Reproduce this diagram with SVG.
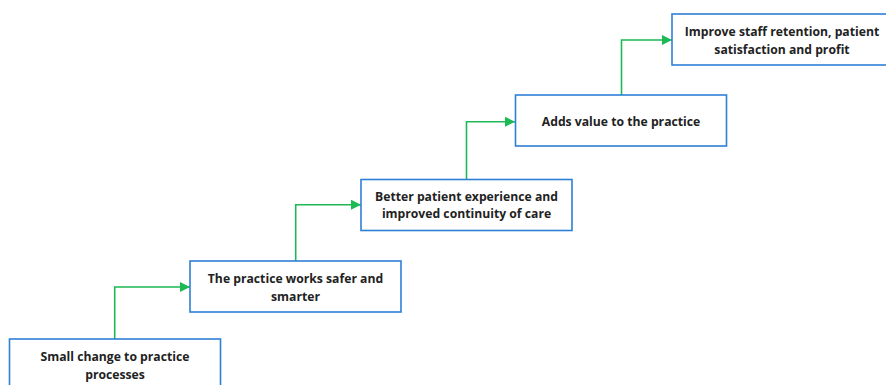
<svg xmlns="http://www.w3.org/2000/svg" width="886" height="385" viewBox="0 0 886 385">
  <defs>
    <marker id="arrow" viewBox="0 0 10 10" refX="10" refY="5" markerWidth="10" markerHeight="10" markerUnits="userSpaceOnUse" orient="auto">
      <path d="M0,0 L10,5 L0,10 Z" fill="#1db954"/>
    </marker>
    <style>
      .box { fill: #ffffff; stroke: #2e7fd6; stroke-width: 1.6; }
      .label { font-family: "Open Sans", "Liberation Sans", sans-serif; font-weight: 700; font-size: 12.2px; fill: #222222; text-anchor: middle; }
      .conn { fill: none; stroke: #1db954; stroke-width: 1.6; marker-end: url(#arrow); }
    </style>
  </defs>
  <rect width="886" height="385" fill="#ffffff"/>

  <g id="connectors">
    <path class="conn" d="M114.7,339 V287 H190"/>
    <path class="conn" d="M295.7,261 V204.7 H361"/>
    <path class="conn" d="M466.5,179 V121.7 H515"/>
    <path class="conn" d="M621.5,95 V40 H672"/>
  </g>

  <g id="step1">
    <rect class="box" x="9.5" y="339" width="211" height="60"/>
    <text class="label" x="115" y="361">Small change to practice</text>
    <text class="label" x="115" y="378.5">processes</text>
  </g>

  <g id="step2">
    <rect class="box" x="190" y="261" width="211" height="51"/>
    <text class="label" x="295.5" y="282.5">The practice works safer and</text>
    <text class="label" x="295.5" y="300.5">smarter</text>
  </g>

  <g id="step3">
    <rect class="box" x="361" y="179.5" width="211" height="51"/>
    <text class="label" x="466.5" y="200.5">Better patient experience and</text>
    <text class="label" x="466.5" y="218">improved continuity of care</text>
  </g>

  <g id="step4">
    <rect class="box" x="515.5" y="95" width="211" height="51"/>
    <text class="label" x="621" y="125.5">Adds value to the practice</text>
  </g>

  <g id="step5">
    <rect class="box" x="672" y="14" width="222" height="51"/>
    <text class="label" x="782" y="36">Improve staff retention, patient</text>
    <text class="label" x="782" y="53.5">satisfaction and profit</text>
  </g>
</svg>
